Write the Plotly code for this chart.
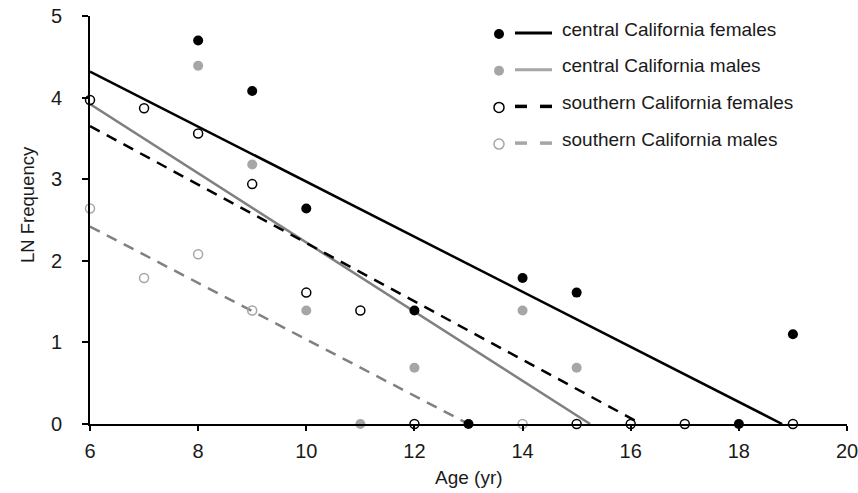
import plotly.graph_objects as go

# --- Data ---
cf_age = [8, 9, 10, 12, 13, 14, 15, 18, 19]
cf_ln = [4.70, 4.08, 2.64, 1.39, 0.0, 1.79, 1.61, 0.0, 1.10]

cm_age = [8, 9, 10, 11, 12, 14, 15]
cm_ln = [4.39, 3.18, 1.39, 0.0, 0.69, 1.39, 0.69]

sf_age = [6, 7, 8, 9, 10, 11, 12, 15, 16, 17, 19]
sf_ln = [3.97, 3.87, 3.56, 2.94, 1.61, 1.39, 0.0, 0.0, 0.0, 0.0, 0.0]

sm_age = [6, 7, 8, 9, 14]
sm_ln = [2.64, 1.79, 2.08, 1.39, 0.0]

# fitted trend lines (end points)
cf_fit_x, cf_fit_y = [6, 18.8], [4.32, 0.0]
cm_fit_x, cm_fit_y = [6, 15.25], [3.92, 0.0]
sf_fit_x, sf_fit_y = [6, 16.2], [3.65, 0.0]
sm_fit_x, sm_fit_y = [6, 13.0], [2.42, 0.0]

labels = ["central California females", "central California males",
          "southern California females", "southern California males"]

BLACK = "#000000"
LIGHT = "#a6a6a6"
MID = "#808080"
TXT = "#1a1a1a"
FONT = "Liberation Sans, Arial, sans-serif"

fig = go.Figure()

# trend lines
fig.add_trace(go.Scatter(x=cf_fit_x, y=cf_fit_y, mode="lines",
    line=dict(color=BLACK, width=2.5), showlegend=False))
fig.add_trace(go.Scatter(x=cm_fit_x, y=cm_fit_y, mode="lines",
    line=dict(color=MID, width=2.5), showlegend=False))
fig.add_trace(go.Scatter(x=sf_fit_x, y=sf_fit_y, mode="lines",
    line=dict(color=BLACK, width=2.5, dash="11px,8px"), showlegend=False))
fig.add_trace(go.Scatter(x=sm_fit_x, y=sm_fit_y, mode="lines",
    line=dict(color=MID, width=2.5, dash="11px,8px"), showlegend=False))

# points
fig.add_trace(go.Scatter(x=cf_age, y=cf_ln, mode="markers", cliponaxis=False,
    marker=dict(symbol="circle", size=10, color=BLACK), showlegend=False))
fig.add_trace(go.Scatter(x=cm_age, y=cm_ln, mode="markers", cliponaxis=False,
    marker=dict(symbol="circle", size=10, color=LIGHT), showlegend=False))
fig.add_trace(go.Scatter(x=sf_age, y=sf_ln, mode="markers", cliponaxis=False,
    marker=dict(symbol="circle-open", size=9, color=BLACK, line=dict(width=1.5)),
    showlegend=False))
fig.add_trace(go.Scatter(x=sm_age, y=sm_ln, mode="markers", cliponaxis=False,
    marker=dict(symbol="circle-open", size=9, color=LIGHT, line=dict(width=1.5)),
    showlegend=False))

# --- Layout in screen pixels ---
W, H = 858, 493
L, R, T, B = 90, 847, 16, 424


def px(x):
    return (x - L) / (R - L)


def py(y):
    return (B - y) / (B - T)


# hand-built legend: marker, then line sample, then text
legend_style = [
    dict(fill=BLACK, edge=BLACK, open=False, line=BLACK, dash=False),
    dict(fill=LIGHT, edge=LIGHT, open=False, line=LIGHT, dash=False),
    dict(fill=None, edge=BLACK, open=True, line=BLACK, dash=True),
    dict(fill=None, edge=LIGHT, open=True, line=LIGHT, dash=True),
]
shapes = []
annotations = []
for i, (lab, st) in enumerate(zip(labels, legend_style)):
    yc = 33 + i * 36.7
    shapes.append(dict(
        type="circle", xref="paper", yref="paper",
        xsizemode="pixel", ysizemode="pixel",
        xanchor=px(499), yanchor=py(yc + 1),
        x0=-5, x1=5, y0=-5, y1=5,
        fillcolor=st["fill"] if st["fill"] else "rgba(0,0,0,0)",
        line=dict(color=st["edge"], width=1.5 if st["open"] else 0)))
    if not st["dash"]:
        shapes.append(dict(type="line", xref="paper", yref="paper",
            x0=px(515), x1=px(552), y0=py(yc), y1=py(yc),
            line=dict(color=st["line"], width=3)))
    else:
        for a, b in [(515, 527), (540, 552)]:
            shapes.append(dict(type="line", xref="paper", yref="paper",
                x0=px(a), x1=px(b), y0=py(yc), y1=py(yc),
                line=dict(color=st["line"], width=3.5)))
    annotations.append(dict(
        x=px(560), y=py(yc - 4), xref="paper", yref="paper",
        text=lab, showarrow=False, xanchor="left", yanchor="middle",
        font=dict(family=FONT, size=19, color=TXT)))

# axis titles
annotations.append(dict(x=px(468.5), y=py(477), xref="paper", yref="paper",
    text="Age (yr)", showarrow=False, xanchor="center", yanchor="middle",
    font=dict(family=FONT, size=19, color=TXT)))
annotations.append(dict(x=px(27), y=py(205), xref="paper", yref="paper",
    text="LN Frequency", showarrow=False, textangle=-90,
    xanchor="center", yanchor="middle",
    font=dict(family=FONT, size=18.5, color=TXT)))

fig.update_layout(
    width=W, height=H,
    margin=dict(l=L, r=W - R, t=T, b=H - B, autoexpand=False),
    paper_bgcolor="white", plot_bgcolor="white",
    font=dict(family=FONT, size=19, color=TXT),
    shapes=shapes, annotations=annotations,
    showlegend=False,
)
fig.update_xaxes(
    range=[6, 20], tickvals=[6, 8, 10, 12, 14, 16, 18, 20],
    showgrid=False, zeroline=False, automargin=False,
    showline=True, linecolor=BLACK, linewidth=2,
    ticks="outside", ticklen=5, tickwidth=2, tickcolor=BLACK,
    tickfont=dict(size=20), ticklabelstandoff=3, ticklabeloverflow="allow",
)
fig.update_yaxes(
    range=[0, 5], tickvals=[0, 1, 2, 3, 4, 5],
    showgrid=False, zeroline=False, automargin=False,
    showline=True, linecolor=BLACK, linewidth=2,
    ticks="outside", ticklen=6, tickwidth=2, tickcolor=BLACK,
    tickfont=dict(size=20), ticklabelstandoff=16, ticklabeloverflow="allow",
)

# drop the default page margin so the figure sits at the window's corner
fig.write_html("out.html", config={"displayModeBar": False},
               post_script="document.body.style.margin='0';")
